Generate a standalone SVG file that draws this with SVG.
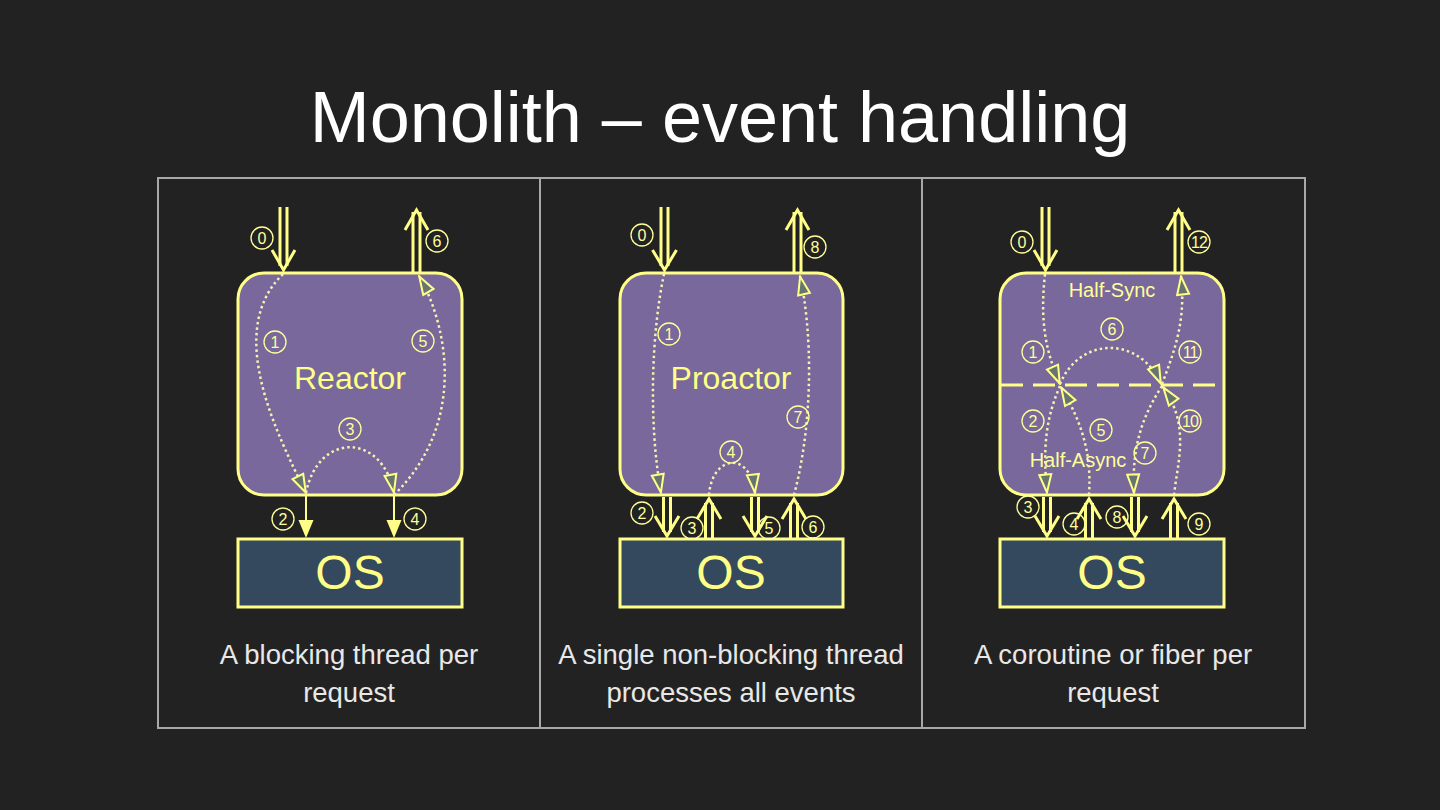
<svg xmlns="http://www.w3.org/2000/svg" width="1440" height="810" viewBox="0 0 1440 810">
<style>
.title{font-family:"Liberation Sans",Arial,sans-serif;font-size:72px;fill:#ffffff;text-anchor:middle}
.cap{font-family:"Liberation Sans",Arial,sans-serif;font-size:27.5px;fill:#e8e8e8;text-anchor:middle}
.box{fill:#78689c;stroke:#ffff88;stroke-width:3}
.os{fill:#34495e;stroke:#ffff88;stroke-width:3}
.big{font-family:"Liberation Sans",Arial,sans-serif;font-size:32px;fill:#ffff88;text-anchor:middle}
.ostx{font-family:"Liberation Sans",Arial,sans-serif;font-size:48px;fill:#ffff88;text-anchor:middle}
.small{font-family:"Liberation Sans",Arial,sans-serif;font-size:20px;fill:#ffff99;text-anchor:middle}
.nc{fill:none;stroke:#ffff99;stroke-width:1.3}
.nt{font-family:"Liberation Sans",Arial,sans-serif;font-size:16px;fill:#ffff99;text-anchor:middle}
.nt2{font-family:"Liberation Sans",Arial,sans-serif;font-size:16px;fill:#ffff99;text-anchor:middle;letter-spacing:-1px}
.dot{fill:none;stroke:#f6f2b0;stroke-width:2.5;stroke-dasharray:2.5 3;marker-end:url(#tri)}
.dbl{fill:none;stroke:#ffff88;stroke-width:3}
.thin{stroke:#ffff88;stroke-width:2;fill:none}
.frame{fill:none;stroke:#a8a8a8;stroke-width:2}
.dash{stroke:#ffff88;stroke-width:3;stroke-dasharray:22 10}
</style>
<defs>
<marker id="tri" viewBox="0 0 21 15" refX="20" refY="7.5" markerWidth="21" markerHeight="15" markerUnits="userSpaceOnUse" orient="auto">
<path d="M1.5,1.5 L19.5,7.5 L1.5,13.5 Z" fill="#66766f" stroke="#ffff88" stroke-width="2"/>
</marker>
<circle id="c" r="11" class="nc"/>
</defs>
<rect width="1440" height="810" fill="#222222"/>
<text class="title" x="720" y="142">Monolith – event handling</text>
<g id="frame">
<rect class="frame" x="158" y="178" width="1147" height="550"/>
<line class="frame" x1="540" y1="178" x2="540" y2="728"/>
<line class="frame" x1="922" y1="178" x2="922" y2="728"/>
</g>

<!-- Panel 1 -->
<g id="reactor">
<rect class="box" x="238" y="273" width="224" height="222" rx="26"/>
<text class="big" x="350" y="389">Reactor</text>
</g>
<g id="os1">
<rect class="os" x="238" y="539" width="224" height="68"/>
<text class="ostx" x="350" y="589">OS</text>
</g>
<g id="caption1">
<text class="cap" x="349" y="664">A blocking thread per</text>
<text class="cap" x="349" y="702">request</text>
</g>

<!-- Panel 2 -->
<g id="proactor">
<rect class="box" x="620" y="273" width="223" height="222" rx="26"/>
<text class="big" x="731" y="389">Proactor</text>
</g>
<g id="os2">
<rect class="os" x="620" y="539" width="223" height="68"/>
<text class="ostx" x="731" y="589">OS</text>
</g>
<g id="caption2">
<text class="cap" x="731" y="664">A single non-blocking thread</text>
<text class="cap" x="731" y="702">processes all events</text>
</g>

<!-- Panel 3 -->
<g id="halfsync">
<rect class="box" x="1000" y="273" width="224" height="222" rx="26"/>
<line class="dash" x1="1001" y1="385" x2="1223" y2="385"/>
<text class="small" x="1112" y="297">Half-Sync</text>
<text class="small" x="1078" y="467">Half-Async</text>
</g>
<g id="os3">
<rect class="os" x="1000" y="539" width="224" height="68"/>
<text class="ostx" x="1112" y="589">OS</text>
</g>
<g id="caption3">
<text class="cap" x="1113" y="664">A coroutine or fiber per</text>
<text class="cap" x="1113" y="702">request</text>
</g>

<g id="connectors">
<!-- Panel 1 -->
<line class="dbl" x1="280" y1="207" x2="280" y2="266"/>
<line class="dbl" x1="287" y1="207" x2="287" y2="266"/>
<polyline class="dbl" points="272,250 283.5,270 295,250"/>
<line class="dbl" x1="413" y1="212" x2="413" y2="273"/>
<line class="dbl" x1="420" y1="212" x2="420" y2="273"/>
<polyline class="dbl" points="405,230 416.5,210 428,230"/>
<path class="dot" d="M283,274 C225,330 275,430 306,493"/>
<path class="dot" d="M306,493 C318,432 382,432 394,493"/>
<path class="dot" d="M394,495 C470,420 445,320 419,276"/>
<line class="thin" x1="306" y1="495" x2="306" y2="522"/>
<polygon points="298.5,520 313.5,520 306,538" fill="#ffff88"/>
<line class="thin" x1="394" y1="495" x2="394" y2="522"/>
<polygon points="386.5,520 401.5,520 394,538" fill="#ffff88"/>

<!-- Panel 2 -->
<line class="dbl" x1="661" y1="207" x2="661" y2="266"/>
<line class="dbl" x1="668" y1="207" x2="668" y2="266"/>
<polyline class="dbl" points="652.5,250 664.5,270 676.5,250"/>
<line class="dbl" x1="794" y1="212" x2="794" y2="273"/>
<line class="dbl" x1="801" y1="212" x2="801" y2="273"/>
<polyline class="dbl" points="786,230 797.5,210 809,230"/>
<path class="dot" d="M664,274 C652,330 648,420 661,493"/>
<path class="dot" d="M709,495 C712,455 750,450 755,493"/>
<path class="dot" d="M794,495 C814,420 812,330 800,276"/>
<line class="dbl" x1="663.5" y1="497" x2="663.5" y2="532"/>
<line class="dbl" x1="670.5" y1="497" x2="670.5" y2="532"/>
<polyline class="dbl" points="655,516 667,536 679,516"/>
<line class="dbl" x1="705.5" y1="503" x2="705.5" y2="538"/>
<line class="dbl" x1="712.5" y1="503" x2="712.5" y2="538"/>
<polyline class="dbl" points="697,519 709,499 721,519"/>
<line class="dbl" x1="751.5" y1="497" x2="751.5" y2="532"/>
<line class="dbl" x1="758.5" y1="497" x2="758.5" y2="532"/>
<polyline class="dbl" points="743,516 755,536 767,516"/>
<line class="dbl" x1="790.5" y1="503" x2="790.5" y2="538"/>
<line class="dbl" x1="797.5" y1="503" x2="797.5" y2="538"/>
<polyline class="dbl" points="782,519 794,499 806,519"/>

<!-- Panel 3 -->
<line class="dbl" x1="1042" y1="207" x2="1042" y2="266"/>
<line class="dbl" x1="1049" y1="207" x2="1049" y2="266"/>
<polyline class="dbl" points="1034,250 1045.5,270 1057,250"/>
<line class="dbl" x1="1175" y1="212" x2="1175" y2="273"/>
<line class="dbl" x1="1182" y1="212" x2="1182" y2="273"/>
<polyline class="dbl" points="1167,230 1178.5,210 1190,230"/>
<path class="dot" d="M1045,274 C1040,320 1045,350 1060,384"/>
<path class="dot" d="M1060,386 C1045,420 1043,450 1047,493"/>
<path class="dot" d="M1089,495 C1092,450 1080,420 1061,387"/>
<path class="dot" d="M1060,384 C1080,336 1140,336 1161,384"/>
<path class="dot" d="M1162,386 C1140,420 1132,450 1134,493"/>
<path class="dot" d="M1174,495 C1178,460 1190,425 1163,387"/>
<path class="dot" d="M1162,384 C1175,350 1186,320 1181,276"/>
<line class="dbl" x1="1043.5" y1="497" x2="1043.5" y2="532"/>
<line class="dbl" x1="1050.5" y1="497" x2="1050.5" y2="532"/>
<polyline class="dbl" points="1035,516 1047,536 1059,516"/>
<line class="dbl" x1="1085.5" y1="503" x2="1085.5" y2="538"/>
<line class="dbl" x1="1092.5" y1="503" x2="1092.5" y2="538"/>
<polyline class="dbl" points="1077,519 1089,499 1101,519"/>
<line class="dbl" x1="1131.5" y1="497" x2="1131.5" y2="532"/>
<line class="dbl" x1="1138.5" y1="497" x2="1138.5" y2="532"/>
<polyline class="dbl" points="1123,516 1135,536 1147,516"/>
<line class="dbl" x1="1170.5" y1="503" x2="1170.5" y2="538"/>
<line class="dbl" x1="1177.5" y1="503" x2="1177.5" y2="538"/>
<polyline class="dbl" points="1162,519 1174,499 1186,519"/>
</g>

<g id="labels">
<use href="#c" x="262" y="238"/><text class="nt" x="262" y="244">0</text>
<use href="#c" x="437" y="241"/><text class="nt" x="437" y="247">6</text>
<use href="#c" x="275" y="342"/><text class="nt" x="275" y="348">1</text>
<use href="#c" x="423" y="341"/><text class="nt" x="423" y="347">5</text>
<use href="#c" x="350" y="429"/><text class="nt" x="350" y="435">3</text>
<use href="#c" x="283" y="519"/><text class="nt" x="283" y="525">2</text>
<use href="#c" x="415" y="519"/><text class="nt" x="415" y="525">4</text>

<use href="#c" x="642" y="235"/><text class="nt" x="642" y="241">0</text>
<use href="#c" x="815" y="247"/><text class="nt" x="815" y="253">8</text>
<use href="#c" x="669" y="334"/><text class="nt" x="669" y="340">1</text>
<use href="#c" x="798" y="417"/><text class="nt" x="798" y="423">7</text>
<use href="#c" x="731" y="452"/><text class="nt" x="731" y="458">4</text>
<use href="#c" x="642" y="513"/><text class="nt" x="642" y="519">2</text>
<use href="#c" x="692" y="528"/><text class="nt" x="692" y="534">3</text>
<use href="#c" x="769" y="528"/><text class="nt" x="769" y="534">5</text>
<use href="#c" x="813" y="527"/><text class="nt" x="813" y="533">6</text>

<use href="#c" x="1022" y="242"/><text class="nt" x="1022" y="248">0</text>
<use href="#c" x="1199" y="242"/><text class="nt2" x="1199" y="248">12</text>
<use href="#c" x="1112" y="329"/><text class="nt" x="1112" y="335">6</text>
<use href="#c" x="1033" y="352"/><text class="nt" x="1033" y="358">1</text>
<use href="#c" x="1190" y="352"/><text class="nt2" x="1190" y="358">11</text>
<use href="#c" x="1033" y="421"/><text class="nt" x="1033" y="427">2</text>
<use href="#c" x="1101" y="430"/><text class="nt" x="1101" y="436">5</text>
<use href="#c" x="1190" y="421"/><text class="nt2" x="1190" y="427">10</text>
<use href="#c" x="1145" y="453"/><text class="nt" x="1145" y="459">7</text>
<use href="#c" x="1028" y="507"/><text class="nt" x="1028" y="513">3</text>
<use href="#c" x="1074" y="524"/><text class="nt" x="1074" y="530">4</text>
<use href="#c" x="1117" y="517"/><text class="nt" x="1117" y="523">8</text>
<use href="#c" x="1199" y="524"/><text class="nt" x="1199" y="530">9</text>
</g>
</svg>
